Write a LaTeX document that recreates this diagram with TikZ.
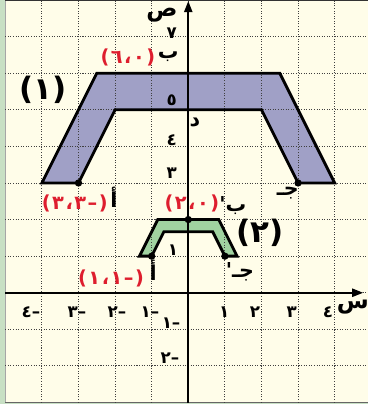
\documentclass[tikz,border=0pt]{standalone}
\usepackage{fontspec}
\usepackage{xcolor}
\usetikzlibrary{arrows.meta}
\newfontfamily\arabicfont[Script=Arabic]{DejaVu Sans}
\newfontfamily\pairfont[Script=Arabic,LetterSpace=8]{DejaVu Sans}
\definecolor{gridbg}{RGB}{255,253,233}
\definecolor{sidegreen}{RGB}{200,224,196}
\definecolor{bandblue}{RGB}{160,160,198}
\definecolor{bandgreen}{RGB}{160,210,160}
\definecolor{labelred}{RGB}{222,30,46}

\begin{document}
\begin{tikzpicture}[x=1cm,y=1cm,
    gridline/.style={draw=black!75,line width=0.7pt,dash pattern=on 0.8pt off 1.2pt},
    axis/.style={line width=1.5pt,-{Triangle[length=3mm,width=2.2mm]}},
    outline/.style={line width=2.2pt,line join=miter},
    dot/.style={circle,fill=black,inner sep=0pt,minimum size=2mm},
    tick/.style={font=\arabicfont\bfseries\fontsize{13}{13}\selectfont,inner sep=0pt},
    redlbl/.style={text=labelred,font=\pairfont\bfseries\fontsize{15}{15}\selectfont,inner sep=0pt},
    letter/.style={font=\arabicfont\bfseries\fontsize{16}{16}\selectfont,inner sep=0pt},
    axislbl/.style={font=\arabicfont\bfseries\fontsize{18}{18}\selectfont,inner sep=0pt},
    biglbl/.style={font=\arabicfont\bfseries\fontsize{24}{24}\selectfont,inner sep=0pt}]
  % frame
  \fill[sidegreen](-5.145,-3.04)rectangle(4.91,8.0);
  \fill[gridbg](-5,-3)rectangle(4.91,7.98);
  \useasboundingbox(-5.145,-3.04)rectangle(4.91,8.0);
  \draw[black!35,line width=0.4pt](-5,-3)--(-5,7.98);
  \draw[black!80,line width=0.8pt](-5,7.98)--(4.91,7.98);
  \draw[black!60,line width=0.8pt](-5,-2.99)--(4.91,-2.99);
  % bands
  \fill[bandblue](-4,3)--(-2.5,6)--(2.5,6)--(4,3)--(3,3)--(2,5)--(-2,5)--(-3,3)--cycle;
  \fill[bandgreen](-4/3,1)--(-5/6,2)--(5/6,2)--(4/3,1)--(1,1)--(2/3,5/3)--(-2/3,5/3)--(-1,1)--cycle;
  % grid
  \foreach \i in {-4,...,4} \draw[gridline](\i,-3)--(\i,7.98);
  \foreach \j in {-2,...,7} \draw[gridline](-5,\j)--(4.91,\j);
  \draw[outline](-4,3)--(-2.5,6)--(2.5,6)--(4,3)--(3,3)--(2,5)--(-2,5)--(-3,3)--cycle;
  \draw[outline](-4/3,1)--(-5/6,2)--(5/6,2)--(4/3,1)--(1,1)--(2/3,5/3)--(-2/3,5/3)--(-1,1)--cycle;
  % axes
  \draw[axis](-5,0)--(4.78,0);
  \draw[axis](0,-3)--(0,7.97);
  \node[dot](a1) at (-3,3){}; \node[dot](c1) at (3,3){};
  \node[dot](a2) at (-1,1){}; \node[dot](c2) at (1,1){};
  \node[dot](b2) at (0,2){};
  % axis labels
  \node[axislbl](ys) at (-0.72,7.58){ص};
  \node[axislbl](xs) at (4.5,-0.4){س};
  \node[tick](y7) at (-0.45,7.1){٧};
  \node[tick](y5) at (-0.45,5.27){٥};
  \node[tick](y4) at (-0.45,4.17){٤};
  \node[tick](y3) at (-0.45,3.27){٣};
  \node[tick](y1) at (-0.42,1.17){١};
  \node[tick](ym1) at (-0.47,-0.83){–١};
  \node[tick](ym2) at (-0.5,-1.78){–٢};
  \node[tick](xm4) at (-4.3,-0.53){–٤};
  \node[tick](xm3) at (-3.04,-0.53){–٣};
  \node[tick](xm2) at (-1.95,-0.53){–٢};
  \node[tick](xm1) at (-1.05,-0.53){–١};
  \node[tick](x1) at (0.98,-0.53){١};
  \node[tick](x2) at (1.82,-0.53){٢};
  \node[tick](x3) at (2.83,-0.53){٣};
  \node[tick](x4) at (3.82,-0.53){٤};
  % point labels
  \node[letter](lb1) at (-0.55,6.44){ب};
  \node[redlbl](pb1) at (-1.65,6.44){(٦،٠)};
  \node[letter](ld) at (0.18,4.66){د};
  \node[letter](lc1) at (2.72,2.72){جـ};
  \node[letter](la1) at (-2.03,2.6){أ};
  \node[redlbl](pa1) at (-3.1,2.45){(–٣،٣)};
  \node[redlbl](pb2) at (0.1,2.45){(٢،٠)};
  \node[letter](lb2) at (1.22,2.39){ب'};
  \node[letter](lc2) at (1.41,0.56){جـ'};
  \node[letter](la2) at (-0.96,0.62){أ};
  \node[redlbl](pa2) at (-2.11,0.4){(–١،١)};
  \node[biglbl](n1) at (-3.97,5.54){(١)};
  \node[biglbl](n2) at (1.96,1.65){(٢)};
\end{tikzpicture}
\end{document}
